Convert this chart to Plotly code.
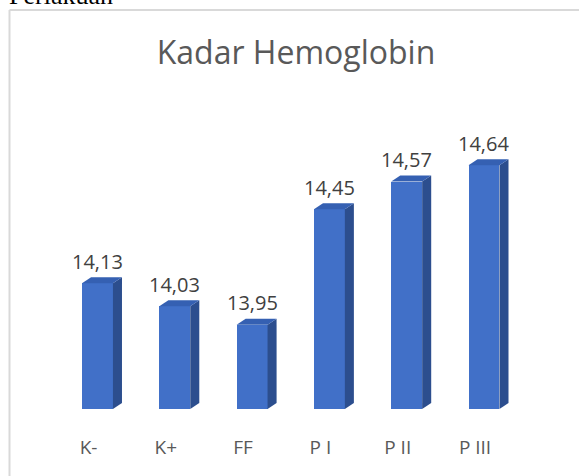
import plotly.graph_objects as go

categories = ["K-", "K+", "FF", "P I", "P II", "P III"]
values = [14.13, 14.03, 13.95, 14.45, 14.57, 14.64]
value_labels = ["14,13", "14,03", "13,95", "14,45", "14,57", "14,64"]
title_text = "Kadar Hemoglobin"
caption_text = "Perlakuan"

W, H = 579, 476
BASE = 13.585          # floor of the value axis
BAR_W = 0.40           # front face width (x units)
DX, DY = 0.117, 0.026  # depth offset of the 3D extrusion (x units, y units)

FRONT = "#4170C8"
SIDE = "#2C4E8E"
TOP = "#3560B2"

pos = list(range(len(categories)))

fig = go.Figure()

# side and top faces (3D extrusion), computed from the data values
for i, v in zip(pos, values):
    xr = i + BAR_W / 2
    xl = i - BAR_W / 2
    fig.add_trace(go.Scatter(
        x=[xr, xr + DX, xr + DX, xr, xr],
        y=[BASE, BASE + DY, v + DY, v, BASE],
        fill="toself", fillcolor=SIDE, mode="lines",
        line=dict(width=0, color=SIDE), hoverinfo="skip", showlegend=False))
    fig.add_trace(go.Scatter(
        x=[xl, xl + DX, xr + DX, xr, xl],
        y=[v, v + DY, v + DY, v, v],
        fill="toself", fillcolor=TOP, mode="lines",
        line=dict(width=0, color=TOP), hoverinfo="skip", showlegend=False))

# front faces
fig.add_trace(go.Bar(
    x=pos, y=[v - BASE for v in values], base=BASE, width=BAR_W,
    marker=dict(color=FRONT, line=dict(width=0)),
    hoverinfo="skip", showlegend=False))

# invisible trace carrying the category axis
fig.add_trace(go.Scatter(
    x=pos, y=values, xaxis="x2", mode="markers",
    marker=dict(opacity=0), hoverinfo="skip", showlegend=False))

annotations = []
for i, v, t in zip(pos, values, value_labels):
    annotations.append(dict(
        x=i, y=v, xref="x", yref="y", text=t, showarrow=False,
        yanchor="middle", yshift=22,
        font=dict(family="Open Sans", size=20, color="#404040")))

annotations.append(dict(
    x=7 / W, y=1 - 12 / H, xref="paper", yref="paper", text=caption_text,
    showarrow=False, xanchor="left", yanchor="bottom",
    font=dict(family="Liberation Serif", size=26, color="#000000")))

bx = 9.5 / W
by = 1 - 10 / H
shapes = [
    dict(type="line", xref="paper", yref="paper", x0=bx, x1=bx, y0=0, y1=by,
         line=dict(color="#D9D9D9", width=2)),
    dict(type="line", xref="paper", yref="paper", x0=bx, x1=1, y0=by, y1=by,
         line=dict(color="#D9D9D9", width=2)),
]

fig.update_layout(
    width=W, height=H,
    margin=dict(l=0, r=0, t=0, b=0),
    paper_bgcolor="white", plot_bgcolor="white",
    title=dict(text=title_text, x=296 / W, xanchor="center",
               y=1 - 53 / H, yanchor="middle",
               font=dict(family="Open Sans", size=32, color="#595959")),
    xaxis=dict(range=[-1.261, 6.229], visible=False, fixedrange=True),
    xaxis2=dict(range=[-1.145, 6.345], overlaying="x", anchor="free",
                position=1 - 434 / H, tickvals=pos, ticktext=categories,
                showgrid=False, zeroline=False, showline=False, ticks="",
                tickfont=dict(family="Open Sans", size=19, color="#595959")),
    yaxis=dict(range=[13.295, 15.356], visible=False, fixedrange=True),
    annotations=annotations,
    shapes=shapes,
    bargap=0,
    hovermode=False,
)

fig.write_html(
    "out.html",
    config={"displayModeBar": False, "staticPlot": True},
    post_script="document.body.style.margin='0px';"
                "document.body.style.overflow='hidden';"
                "document.documentElement.style.overflow='hidden';",
)
